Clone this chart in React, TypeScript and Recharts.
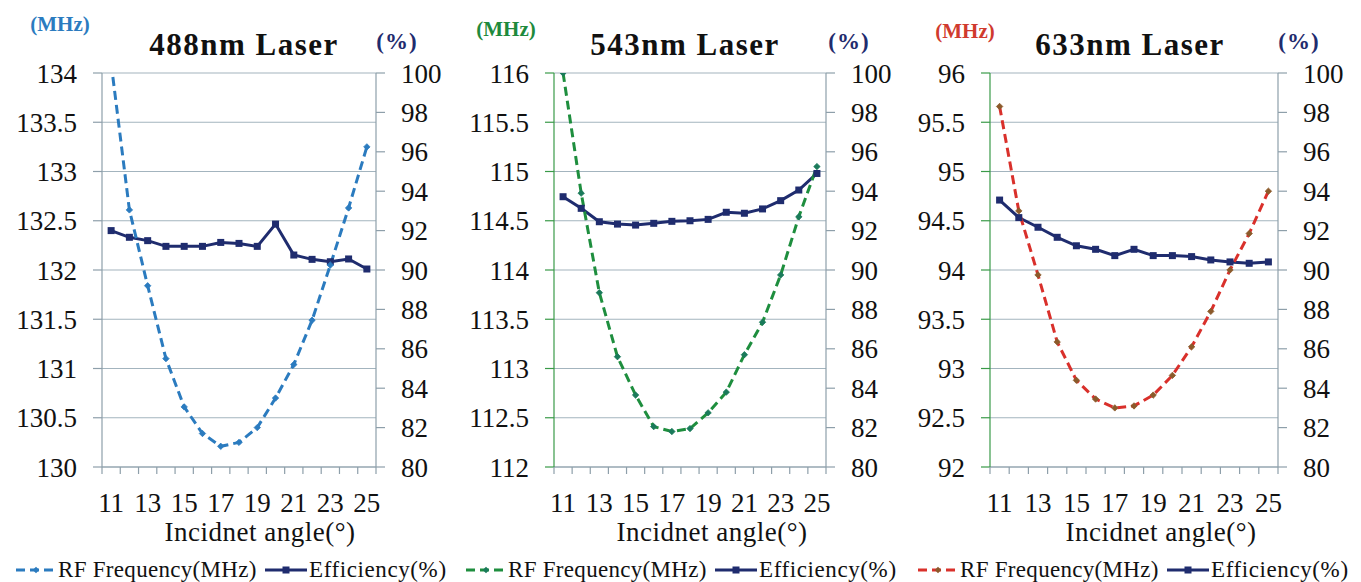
import React from 'react';
import { LineChart, Line, XAxis, YAxis, CartesianGrid } from 'recharts';

const angles = [11, 12, 13, 14, 15, 16, 17, 18, 19, 20, 21, 22, 23, 24, 25];
const rf488 = [134.1, 132.61, 131.84, 131.1, 130.61, 130.34, 130.21, 130.25, 130.4, 130.7, 131.04, 131.49, 132.05, 132.63, 133.25];
const eff488 = [92.0, 91.66, 91.49, 91.2, 91.2, 91.2, 91.4, 91.35, 91.2, 92.33, 90.76, 90.54, 90.42, 90.56, 90.05];
const rf543 = [116.0, 114.78, 113.77, 113.12, 112.73, 112.41, 112.36, 112.39, 112.55, 112.76, 113.14, 113.47, 113.95, 114.54, 115.05];
const eff543 = [93.72, 93.13, 92.45, 92.33, 92.28, 92.37, 92.47, 92.5, 92.57, 92.93, 92.88, 93.1, 93.52, 94.06, 94.9];
const rf633 = [95.66, 94.6, 93.95, 93.27, 92.88, 92.69, 92.6, 92.62, 92.73, 92.93, 93.22, 93.58, 94.0, 94.37, 94.8];
const eff633 = [93.55, 92.66, 92.17, 91.66, 91.23, 91.05, 90.73, 91.05, 90.73, 90.73, 90.68, 90.51, 90.41, 90.34, 90.41];

const xLabelTicks = [11, 13, 15, 17, 19, 21, 23, 25];
const xMarkTicks = [10.5, 11.5, 12.5, 13.5, 14.5, 15.5, 16.5, 17.5, 18.5, 19.5, 20.5, 21.5, 22.5, 23.5, 24.5, 25.5];
const effTicks = [80, 82, 84, 86, 88, 90, 92, 94, 96, 98, 100];
const ticks488 = [130, 130.5, 131, 131.5, 132, 132.5, 133, 133.5, 134];
const ticks543 = [112, 112.5, 113, 113.5, 114, 114.5, 115, 115.5, 116];
const ticks633 = [92, 92.5, 93, 93.5, 94, 94.5, 95, 95.5, 96];

const titles = ['488nm Laser', '543nm Laser', '633nm Laser'];
const xTitle = 'Incidnet angle(°)';
const rfLegend = 'RF Frequency(MHz)';
const effLegend = 'Efficiency(%)';

const FONT = "'Liberation Serif', 'Times New Roman', serif";
const NAVY = '#1F2C6E';
const GRID = '#A3B4BE';
const AXIS = '#8E9FAA';

const allXTicks = [...xMarkTicks, ...xLabelTicks].sort((a, b) => a - b);

const XTick = (props: any) => {
  const { x, y, payload } = props;
  const v = payload.value;
  if (v % 1 !== 0) {
    return <line x1={x} y1={y} x2={x} y2={y + 7} stroke={AXIS} strokeWidth={1.2} />;
  }
  return (
    <text x={x} y={y + 45} textAnchor="middle" style={{ fontFamily: FONT, fontSize: 27 }} fill="#111">
      {v}
    </text>
  );
};

const YTick = (props: any) => {
  const { x, y, payload, textAnchor } = props;
  return (
    <text x={x} y={y} dy="0.355em" textAnchor={textAnchor} style={{ fontFamily: FONT, fontSize: 27 }} fill="#111">
      {payload.value}
    </text>
  );
};

const makeDiamond = (color: string) => (props: any) => {
  const { cx, cy, index } = props;
  if (cx == null || cy == null) return <g key={'d' + index} />;
  const s = 3.2;
  return (
    <path key={'d' + index} d={`M${cx},${cy - s} L${cx + s},${cy} L${cx},${cy + s} L${cx - s},${cy} Z`} fill={color} stroke={color} strokeWidth={0.8} />
  );
};

const SquareDot = (props: any) => {
  const { cx, cy, index } = props;
  if (cx == null || cy == null) return <g key={'s' + index} />;
  return <rect key={'s' + index} x={cx - 3.5} y={cy - 3.5} width={7} height={7} fill={NAVY} />;
};

type PanelProps = {
  left: number;
  width: number;
  plotLeft: number;
  plotRight: number;
  rf: number[];
  eff: number[];
  domain: [number, number];
  ticks: number[];
  rfColor: string;
  markColor: string;
  leftAxisColor: string;
};

const Panel = (p: PanelProps) => {
  const data = angles.map((a, i) => ({ angle: a, rf: p.rf[i], eff: p.eff[i] }));
  const leftW = p.plotLeft - p.left;
  const rightW = p.left + p.width - p.plotRight;
  return (
    <div style={{ position: 'absolute', left: p.left, top: 0, fontFamily: FONT }}>
      <LineChart width={p.width} height={582} data={data} margin={{ top: 73, right: 0, bottom: 75, left: 0 }}>
        <CartesianGrid yAxisId="l" vertical={false} stroke={GRID} strokeWidth={1.2} />
        <XAxis
          dataKey="angle"
          type="number"
          domain={[10.5, 25.5]}
          ticks={allXTicks}
          interval={0}
          tick={<XTick />}
          tickLine={false}
          tickSize={0}
          tickMargin={0}
          height={40}
          axisLine={{ stroke: AXIS, strokeWidth: 1.2 }}
        />
        <YAxis
          yAxisId="l"
          orientation="left"
          width={leftW}
          domain={p.domain}
          ticks={p.ticks}
          interval={0}
          allowDataOverflow
          tickSize={9}
          tickMargin={16}
          tick={<YTick />}
          axisLine={{ stroke: p.leftAxisColor, strokeWidth: 1.2 }}
          tickLine={{ stroke: p.leftAxisColor, strokeWidth: 1.2 }}
        />
        <YAxis
          yAxisId="r"
          orientation="right"
          width={rightW}
          domain={[80, 100]}
          ticks={effTicks}
          interval={0}
          tickSize={9}
          tickMargin={16}
          tick={<YTick />}
          axisLine={{ stroke: AXIS, strokeWidth: 1.2 }}
          tickLine={{ stroke: AXIS, strokeWidth: 1.2 }}
        />
        <Line yAxisId="r" dataKey="eff" stroke={NAVY} strokeWidth={3} dot={SquareDot} isAnimationActive={false} />
        <Line
          yAxisId="l"
          dataKey="rf"
          stroke={p.rfColor}
          strokeWidth={3}
          strokeDasharray="9 5"
          dot={makeDiamond(p.markColor)}
          isAnimationActive={false}
        />
      </LineChart>
    </div>
  );
};

const Txt = ({ x, top, size, color, bold, children, spacing }: any) => (
  <div
    style={{
      position: 'absolute',
      left: x,
      top,
      transform: 'translateX(-50%)',
      fontFamily: FONT,
      fontSize: size,
      lineHeight: size + 'px',
      fontWeight: bold ? 700 : 400,
      color,
      whiteSpace: 'nowrap',
      letterSpacing: spacing || 0,
    }}
  >
    {children}
  </div>
);

const LegendRow = ({ x, color, markColor }: any) => (
  <>
    <svg style={{ position: 'absolute', left: x, top: 562 }} width={42} height={16}>
      <line x1={1} y1={8} x2={41} y2={8} stroke={color} strokeWidth={3} strokeDasharray="9 5" />
      <path d="M21,4.8 L24.2,8 L21,11.2 L17.8,8 Z" fill={markColor} />
    </svg>
    <div style={{ position: 'absolute', left: x + 43, top: 558, fontFamily: FONT, fontSize: 23, lineHeight: '23px', color: '#111', whiteSpace: 'nowrap', letterSpacing: 0.3 }}>
      {rfLegend}
    </div>
    <svg style={{ position: 'absolute', left: x + 250, top: 562 }} width={42} height={16}>
      <line x1={0} y1={8} x2={42} y2={8} stroke={NAVY} strokeWidth={3} />
      <rect x={17.5} y={4.5} width={7} height={7} fill={NAVY} />
    </svg>
    <div style={{ position: 'absolute', left: x + 294, top: 558, fontFamily: FONT, fontSize: 23, lineHeight: '23px', color: '#111', whiteSpace: 'nowrap', letterSpacing: 0.6 }}>
      {effLegend}
    </div>
  </>
);

export default function App() {
  return (
    <div style={{ position: 'absolute', left: 0, top: 0, width: 1361, height: 582, background: '#ffffff', overflow: 'hidden', fontFamily: FONT }}>
      <Panel left={0} width={453} plotLeft={102} plotRight={376} rf={rf488} eff={eff488} domain={[130, 134]} ticks={ticks488} rfColor="#2B7BBF" markColor="#2B7BBF" leftAxisColor={AXIS} />
      <Panel left={453} width={455} plotLeft={554} plotRight={826} rf={rf543} eff={eff543} domain={[112, 116]} ticks={ticks543} rfColor="#1E8E3E" markColor="#1A7A5A" leftAxisColor="#3A9A48" />
      <Panel left={908} width={453} plotLeft={990} plotRight={1278} rf={rf633} eff={eff633} domain={[92, 96]} ticks={ticks633} rfColor="#D9302B" markColor="#8B5A2B" leftAxisColor="#3A9A48" />

      <Txt x={244} top={29} size={31} bold color="#111" spacing={1.5}>{titles[0]}</Txt>
      <Txt x={685} top={29} size={31} bold color="#111" spacing={1.5}>{titles[1]}</Txt>
      <Txt x={1130} top={29} size={31} bold color="#111" spacing={1.5}>{titles[2]}</Txt>

      <Txt x={60} top={14} size={21} bold color="#2B7BBF">(MHz)</Txt>
      <Txt x={506} top={19} size={21} bold color="#1E8A3C">(MHz)</Txt>
      <Txt x={965} top={21} size={21} bold color="#D03A2E">(MHz)</Txt>

      <Txt x={397} top={30} size={23} bold color={NAVY} spacing={1}>(%)</Txt>
      <Txt x={849} top={30} size={23} bold color={NAVY} spacing={1}>(%)</Txt>
      <Txt x={1299} top={30} size={23} bold color={NAVY} spacing={1}>(%)</Txt>

      <Txt x={260} top={519} size={27} color="#111" spacing={0.5}>{xTitle}</Txt>
      <Txt x={712} top={519} size={27} color="#111" spacing={0.5}>{xTitle}</Txt>
      <Txt x={1161} top={519} size={27} color="#111" spacing={0.5}>{xTitle}</Txt>

      <LegendRow x={15} color="#2B7BBF" markColor="#2B7BBF" />
      <LegendRow x={465} color="#1E8E3E" markColor="#1A7A5A" />
      <LegendRow x={917} color="#D9302B" markColor="#8B5A2B" />
    </div>
  );
}
